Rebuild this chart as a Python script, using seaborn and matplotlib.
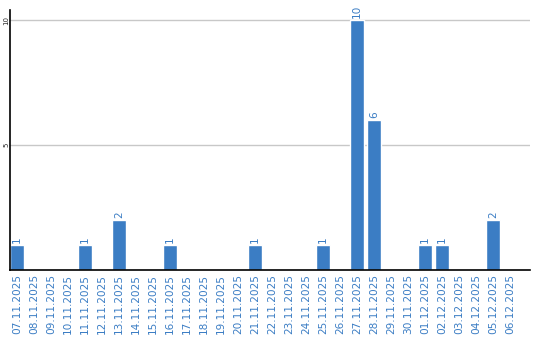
import matplotlib
matplotlib.use("Agg")
import matplotlib.pyplot as plt
import seaborn as sns
import pandas as pd

dates = ["07.11.2025", "08.11.2025", "09.11.2025", "10.11.2025", "11.11.2025",
         "12.11.2025", "13.11.2025", "14.11.2025", "15.11.2025", "16.11.2025",
         "17.11.2025", "18.11.2025", "19.11.2025", "20.11.2025", "21.11.2025",
         "22.11.2025", "23.11.2025", "24.11.2025", "25.11.2025", "26.11.2025",
         "27.11.2025", "28.11.2025", "29.11.2025", "30.11.2025", "01.12.2025",
         "02.12.2025", "03.12.2025", "04.12.2025", "05.12.2025", "06.12.2025"]
counts = [1, 0, 0, 0, 1, 0, 2, 0, 0, 1, 0, 0, 0, 0, 1, 0, 0, 0, 1, 0,
          10, 6, 0, 0, 1, 1, 0, 0, 2, 0]
ytick_vals = [5, 10]

df = pd.DataFrame({"date": dates, "count": counts})

sns.set_style("white")
BLUE = "#3b7dc4"
fig = plt.figure(figsize=(5.4, 3.4), dpi=100)
ax = fig.add_axes([10/540, 70/340, 520/540, 260/340])
sns.barplot(data=df, x="date", y="count", color=BLUE, width=14/17, saturation=1, ax=ax)

ax.set_xlim(-0.41, 30.18)
ax.set_ylim(0, 10.4)
ax.set_yticks(ytick_vals)
ax.set_yticklabels([str(v) for v in ytick_vals], rotation=90, fontsize=5,
                   va="center", family="DejaVu Sans")
ax.tick_params(axis="y", length=0, pad=0.5)
ax.tick_params(axis="x", length=0, pad=3)
plt.setp(ax.get_xticklabels(), rotation=90, fontsize=7.6, color=BLUE)
ax.set_xlabel("")
ax.set_ylabel("")
ax.yaxis.grid(True, color="#c8c8c8", linewidth=1)
ax.set_axisbelow(True)
for s in ["top", "right"]:
    ax.spines[s].set_visible(False)
for s in ["left", "bottom"]:
    ax.spines[s].set_color("black")
    ax.spines[s].set_linewidth(1.2)

for i, v in enumerate(counts):
    if v > 0:
        ax.text(i, v + 0.08, str(v), rotation=90, ha="center", va="bottom",
                fontsize=7.6, color=BLUE)

fig.savefig("out.png", dpi=100)
